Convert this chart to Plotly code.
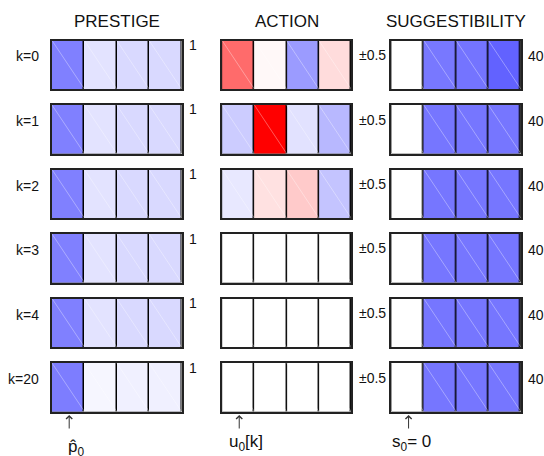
import plotly.graph_objects as go

# ---------------- data ----------------
row_labels = ["k=0", "k=1", "k=2", "k=3", "k=4", "k=20"]
panel_titles = ["PRESTIGE", "ACTION", "SUGGESTIBILITY"]
panel_max = [1.0, 0.5, 40.0]
max_labels = ["1", "\u00b10.5", "40"]
bottom_labels = ["p\u0302<sub>0</sub>", "u<sub>0</sub>[k]", "s<sub>0</sub>= 0"]

prestige = [
    [0.50, 0.11, 0.15, 0.15],
    [0.50, 0.11, 0.15, 0.15],
    [0.50, 0.11, 0.15, 0.15],
    [0.50, 0.11, 0.15, 0.15],
    [0.50, 0.11, 0.15, 0.15],
    [0.51, 0.035, 0.06, 0.06],
]
action = [
    [-0.29, -0.014, 0.196, -0.069],
    [0.10, -0.50, 0.057, 0.139],
    [0.045, -0.059, -0.104, 0.116],
    [0.0, 0.0, 0.0, 0.0],
    [0.0, 0.0, 0.0, 0.0],
    [0.0, 0.0, 0.0, 0.0],
]
suggest = [
    [0.0, 21.2, 21.8, 24.6],
    [0.0, 21.5, 21.5, 21.5],
    [0.0, 21.5, 21.5, 21.5],
    [0.0, 21.5, 21.5, 21.5],
    [0.0, 21.5, 21.5, 21.5],
    [0.0, 21.5, 21.5, 21.5],
]
panels = [prestige, action, suggest]

# ---------------- layout geometry (pixels) ----------------
W, H = 544, 456
col_px = [(52.0, 181.5), (222.1, 351.1), (391.4, 520.8)]
row_top0, row_pitch, row_h = 40.5, 64.5, 48.5
label_left = [65.5, 227.0, 390.0]
label_mid_y = [447.5, 443.0, 443.0]
FONT = "Liberation Sans, Arial, sans-serif"

def px(x):
    return x / W

def py(y):
    return 1 - y / H

cscale = [[0.0, "rgb(255,0,0)"], [0.5, "rgb(255,255,255)"], [1.0, "rgb(0,0,255)"]]

fig = go.Figure()
layout = {}
annotations = []

for r, lab in enumerate(row_labels):
    top = row_top0 + r * row_pitch
    for c in range(3):
        n = r * 3 + c + 1
        xa = "x" if n == 1 else f"x{n}"
        ya = "y" if n == 1 else f"y{n}"
        vals = panels[c][r]
        vmax = panel_max[c]
        ncell = len(vals)
        fig.add_trace(go.Heatmap(
            z=[vals], x=list(range(ncell)), y=[0],
            zmin=-vmax, zmax=vmax, colorscale=cscale, showscale=False,
            xgap=1.5, xaxis=xa, yaxis=ya, hoverinfo="z",
        ))
        # faint diagonal rendering seams inside each cell
        dx, dy = [], []
        for i in range(ncell):
            dx += [i - 0.5, i + 0.5, None]
            dy += [0.5, -0.5, None]
        fig.add_trace(go.Scatter(
            x=dx, y=dy, mode="lines", xaxis=xa, yaxis=ya,
            line=dict(color="rgba(255,255,255,0.35)", width=1),
            hoverinfo="skip", showlegend=False,
        ))
        x0, x1 = col_px[c]
        axkey = "xaxis" if n == 1 else f"xaxis{n}"
        aykey = "yaxis" if n == 1 else f"yaxis{n}"
        layout[axkey] = dict(
            domain=[px(x0), px(x1)], anchor=ya, range=[-0.5, ncell - 0.5],
            showticklabels=False, ticks="", showgrid=False, zeroline=False,
            showline=True, mirror=True, linecolor="#222", linewidth=1.5,
            fixedrange=True,
        )
        layout[aykey] = dict(
            domain=[py(top + row_h), py(top)], anchor=xa, range=[-0.5, 0.5],
            showticklabels=False, ticks="", showgrid=False, zeroline=False,
            showline=True, mirror=True, linecolor="#222", linewidth=1.5,
            fixedrange=True,
        )
        # max-value labels right of each panel
        yoff = [4.5, 14.5, 16][c]
        xl = [187.0, 356.5, 526.0][c]
        annotations.append(dict(
            text=max_labels[c], x=px(xl), y=py(top + yoff), xref="paper", yref="paper",
            xanchor="left", yanchor="middle", showarrow=False,
            font=dict(family=FONT, size=14, color="#111"),
        ))
    annotations.append(dict(
        text=lab, x=px(41), y=py(top + 16), xref="paper", yref="paper",
        xanchor="right", yanchor="middle", showarrow=False,
        font=dict(family=FONT, size=14, color="#111"),
    ))

for c, t in enumerate(panel_titles):
    x0, x1 = col_px[c]
    annotations.append(dict(
        text=t, x=px((x0 + x1) / 2), y=py(21.5), xref="paper", yref="paper",
        xanchor="center", yanchor="middle", showarrow=False,
        font=dict(family=FONT, size=17, color="#111"),
    ))
    cell_w = (x1 - x0) / 4
    annotations.append(dict(
        text="", x=px(x0 + cell_w / 2 + 1), y=py(415), xref="paper", yref="paper",
        showarrow=True, ax=0, ay=15, arrowhead=4, arrowsize=1.2, arrowwidth=1,
        arrowcolor="#333",
    ))
    annotations.append(dict(
        text=bottom_labels[c], x=px(label_left[c]), y=py(label_mid_y[c]),
        xref="paper", yref="paper",
        xanchor="left", yanchor="middle", showarrow=False,
        font=dict(family=FONT, size=17, color="#111"),
    ))

fig.update_layout(
    width=W, height=H, margin=dict(l=0, r=0, t=0, b=0),
    paper_bgcolor="white", plot_bgcolor="black",
    showlegend=False, annotations=annotations, **layout,
)

fig.write_html("out.html", config={"displayModeBar": False},
               post_script="document.body.style.margin='0px';document.body.style.padding='0px';")
